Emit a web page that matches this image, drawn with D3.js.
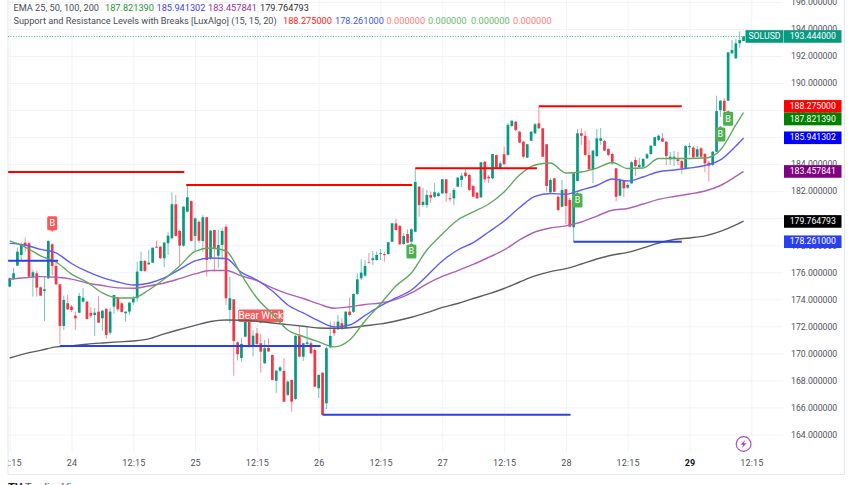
<!DOCTYPE html>
<html><head><meta charset="utf-8">
<script src="https://cdnjs.cloudflare.com/ajax/libs/d3/7.8.5/d3.min.js"></script>
<style>html,body{margin:0;padding:0;background:#fff;overflow:hidden}svg{display:block}text{font-family:Roboto,"Liberation Sans",sans-serif}</style>
</head><body><svg id="c" width="852" height="485"></svg>
<script>
// SOLUSD 45-minute candles, one row per bar: open, high, low, close
const opens=[174.94,175.56,176.49,177.28,178.19,178.15,175.63,175.93,174.89,174.62,175.56,178.07,176.47,175.11,172.03,173.71,173.46,172.79,173.01,173.83,173.83,172.99,172.84,173.09,172.6,173.29,171.53,173.46,174.12,173.71,172.97,173.09,173.78,174.08,176.1,176.84,176.59,176.71,177.89,177.89,177.04,178.15,178.52,181.03,179.06,177.97,180.48,181.27,178.69,179.74,178.32,180.07,177.04,179.13,177.23,178.02,179.37,173.21,174,170.82,169.66,171.24,172.47,170.5,171.49,170.75,169.27,170.4,169.88,167.98,168.72,168.7,166.93,168.04,166.63,171.29,169.76,170.7,170.75,170.25,167.42,168.58,166.31,170.45,171.78,171.78,172.23,171.86,173.09,173.07,174.4,175.56,175.75,176.74,176.91,176.91,177.35,177.35,177.35,178.26,179.62,179.43,178.09,178.83,178.26,179,182.33,180.98,180.98,181.72,181.59,181.64,181.84,182.88,181.47,181.47,182.33,182.83,183.37,183.2,182.38,181.89,181.55,184.18,183.07,182.95,184.67,183.69,184.73,184.68,186.82,187.14,186.4,185.66,184.48,185.73,186.28,187.02,186.65,185.47,181.92,182.95,181.59,180.85,182.14,181.35,179.33,182.75,186.28,186.1,184.68,183.62,184.6,185.73,185.71,185.12,184.75,183.69,181.67,182.75,182.26,182.58,184.31,183.79,183.81,184.43,184.75,185.36,185.79,185.91,185.66,184.36,184.38,184.36,184.23,183.69,185.25,185.22,184.55,185.17,184.75,184.11,183.94,184.92,188,188.69,188.69,192.2,191.83,192.94,193.11];
const highs=[175.63,176.32,177.82,178.19,178.56,178.26,176.17,176.1,174.95,175.68,178.35,178.15,176.91,175.11,174.27,174.32,173.58,173.09,174.47,174.84,173.88,173.43,173.36,174.25,173.21,173.34,173.36,174.32,174.2,173.77,173.09,173.83,174.25,176.78,177.52,176.91,177.65,177.83,178.34,177.95,178.26,179,181.92,181.72,179.13,180.9,182.46,181.31,180.07,179.82,180.24,180.11,179.13,179.13,179.13,179.26,179.55,175.68,174,170.87,171.14,172.72,172.62,171.73,171.88,171.44,170.99,171.12,169.92,168.78,169.07,169.64,168.04,168.04,171.36,171.98,170.79,171.98,170.92,170.38,168.48,168.58,170.5,172.35,172.35,172.84,172.6,173.1,174.15,174.45,175.93,176.96,176.91,177.41,177.58,177.52,177.72,177.52,178.26,179.65,179.94,179.5,178.89,179.18,179.26,183.69,182.38,182.24,182.09,181.96,182.6,181.94,182.9,182.9,181.89,182.24,183.05,183.35,183.64,183.27,182.46,181.94,184.16,184.23,183.2,184.75,184.71,184.23,185.29,187.04,187.26,187.19,186.45,185.71,185.49,186.45,187.04,188.28,186.67,185.49,182.97,182.97,181.72,182.83,182.16,181.5,183.35,186.6,186.65,186.45,185.79,185.05,186.6,186.67,185.79,185.19,184.82,183.71,182.97,182.83,182.61,184.23,184.53,184.46,184.46,184.82,185.42,186.01,186.23,186.3,185.71,184.9,184.97,184.9,184.31,185.42,185.56,185.34,185.34,185.27,184.82,184.23,184.97,189.06,188.74,188.89,192.29,193.18,193.26,193.83,193.48];
const lows=[174.89,175.43,176.49,176.91,177.52,175.68,174.2,174.2,174.25,172.4,175.5,175.8,175.06,170.7,171.73,173.21,173.06,171.73,172.99,173.73,172.51,172.62,171.29,172.25,171.66,171.07,171.36,172.92,173.09,173.03,172.35,172.84,173.58,173.83,176.05,176.02,176.54,176.69,177.78,176.98,176.39,177.28,178.44,178.63,176.54,177.89,180.44,178.28,177.6,178.17,177.52,175.68,176.91,176.05,176.3,176.91,173.58,172.23,168.35,169.48,169.37,171.19,170.42,169.76,170.62,168.58,169.22,170.11,168,167.05,168.63,166.39,166.85,165.69,166.56,169.71,169.44,170.62,169.96,167.5,166.7,165.45,165.87,170.38,171.29,171.73,171.73,171.81,172.73,172.99,174.32,175.43,175.68,176.67,176.54,176.86,176.91,176.78,177.28,178.24,179.08,178.02,178.02,178.15,178.19,178.96,180.09,180.85,180.76,181.13,181.5,181.57,181.79,181.2,181.22,180.98,182.31,182.31,182.98,182.01,181.57,181.42,181.5,182.61,182.61,182.9,183.68,183.64,183.96,184.6,186.75,186.45,185.56,184.45,184.45,185.71,186.23,186.6,184.53,181.96,181.87,181.94,180.53,180.83,179.57,179.35,178.26,182.72,185.42,184.6,183.57,182.61,184.53,185.42,184.97,184.6,183.94,181.24,181.61,181.57,182.16,182.53,183.12,183.71,183.79,184.38,184.68,185.34,185.71,185.64,183.94,183.94,183.86,183.94,183.27,183.64,184.68,184.45,184.53,184.45,183.42,182.7,183.86,184.9,187.51,187.26,188.67,192.15,191.78,192.59,193.11];
const closes=[175.56,175.93,177.52,178.09,177.97,175.68,176,174.86,174.27,174.74,178.32,176.47,175.11,172.03,173.95,173.26,173.21,172.6,174.25,174.12,172.55,172.79,173.01,172.27,173.16,171.36,173.09,174.32,173.26,173.06,173.09,173.75,174.08,176.05,176.84,176.1,176.71,177.82,177.82,177.04,178.19,178.71,181.03,178.69,177.97,180.85,181.55,178.32,179.99,178.34,180.07,176.91,179.08,177.78,178.02,179.06,174.08,174.08,170.92,169.94,170.7,172.47,170.5,171.31,170.7,170.13,170.38,170.14,168.04,168.72,168.97,166.43,167.91,166.43,171.29,169.76,170.75,170.82,170.01,167.54,168.4,165.45,170.38,171.29,171.49,172.35,171.81,173.09,172.84,174.4,175.48,175.97,176.47,176.69,177.04,177.28,177.41,177.28,178.22,179.62,179.13,178.07,178.69,178.19,179.18,182.68,180.98,181.22,181.72,181.52,181.92,181.84,182.88,181.84,181.4,182.09,183,183.15,183.12,182.09,181.59,181.47,184.14,182.88,182.95,184.75,183.71,184.06,183.99,186.9,187.21,186.53,185.59,184.55,185.47,186.4,186.95,186.65,184.55,182.38,182.83,181.96,180.61,182.09,180.9,179.37,183.32,186.28,186.1,184.68,183.62,185,185.91,185.91,185,184.68,184.06,181.59,182.83,182.21,182.46,184.14,183.86,183.94,184.38,184.73,185.36,185.99,186.1,185.66,184.6,184.55,184.55,184.23,183.69,185.34,185.34,184.51,185.1,184.55,184.06,183.88,184.92,187.93,188.69,187.93,192.27,192.44,192.94,193.18,193.44];

// EMA readings, taken every fourth bar plus the last one
const emaBars=[0,4,8,12,16,20,24,28,32,36,40,44,48,52,56,60,64,68,72,76,80,84,88,92,96,100,104,108,112,116,120,124,128,132,136,140,144,148,152,156,160,164,168,172,176,180,184,188,190];
const ema25=[178.32,177.87,177.21,176.76,175.87,175.28,174.47,174.1,174.1,174.69,175.5,176.47,177.55,177.8,177.58,175.8,174.1,172.92,171.73,171.25,170.85,170.48,170.99,172.4,173.66,174.99,175.95,177.65,178.83,179.87,180.46,181.05,181.94,183.2,183.94,184.08,183.35,183.42,183.71,184.12,183.68,183.71,184.42,184.42,184.42,184.45,185.05,186.9,187.82];
const ema50=[178.14,178.02,177.69,177.43,176.65,176.06,175.6,175.28,175.06,175.19,175.58,176.21,176.84,177.06,177.02,175.99,175.43,174.62,173.58,172.99,172.4,171.96,172.1,172.81,173.51,174.1,174.69,175.73,176.84,177.65,178.2,178.98,179.79,180.79,181.61,181.83,181.77,182.09,182.42,182.9,182.75,183.05,183.44,183.57,183.71,183.9,184.31,185.34,185.94];
const ema100=[175.49,175.6,175.68,175.63,175.49,175.21,175.02,174.85,174.82,174.99,175.21,175.53,175.88,176.13,176.13,175.73,175.39,174.84,174.4,174.06,173.66,173.34,173.45,173.62,173.73,173.99,174.47,175.14,175.69,176.13,176.58,177.1,177.65,178.39,178.98,179.28,179.43,179.72,180.16,180.59,180.72,181.05,181.39,181.61,181.79,182.01,182.42,183.09,183.46];
const ema200=[169.66,169.98,170.22,170.48,170.56,170.68,170.77,170.85,170.92,171.07,171.44,171.77,172.07,172.36,172.47,172.45,172.38,172.25,172.13,172.01,171.88,171.86,171.9,172.04,172.18,172.4,172.67,173.01,173.4,173.69,174.06,174.4,174.8,175.28,175.73,176.05,176.27,176.61,176.98,177.28,177.47,177.8,178.17,178.43,178.54,178.69,179.02,179.5,179.78];

// Support and resistance segments: start bar, end bar, price
const resistStart=[-0.4,45.7,105,137]; const resistEnd=[45.2,104.2,136.5,174]; const resistPrice=[183.42,182.45,183.69,188.275];
const supportStart=[-0.4,13,81,146]; const supportEnd=[12.5,80.5,145.2,174]; const supportPrice=[176.85,170.55,165.46,178.261];

// Signal labels
const buyBars=[104,147,184,186]; const buyPrices=[178.17,181.94,186.82,187.98]; const buyText=["B","B","B","B"];
const sellBars=[11,65]; const sellPrices=[179,172.21]; const sellText=["B","Bear Wick"];

// Axis content
const priceTicks=[164,166,168,170,172,174,176,178,180,182,184,186,188,190,192,194,196];
const timeBars=[0,16,32,48,64,80,96,112,128,144,160,176,192];
const timeLabels=["12:15","24","12:15","25","12:15","26","12:15","27","12:15","28","12:15","29","12:15"];

// Price tags on the axis: value, tag centre price, colour
const tagValues=["188.275000","187.821390","185.941302","183.457841","179.764793","178.261000"];
const tagPrices=[188.275,187.34,185.95,183.46,179.76,178.26];
const tagColors=["#ff0000","#008000","#0000ff","#800080","#000000","#2a3ff0"];
const lastPrice=193.444;

// Legend
const legend1=[["EMA 25, 50, 100, 200","#4a4e59"],["187.821390","#2a9132"],["185.941302","#3f3ff5"],["183.457841","#9c2f9c"],["179.764793","#2f2f2f"]];
const legend2=[["Support and Resistance Levels with Breaks [LuxAlgo] (15, 15, 20)","#4a4e59"],["188.275000","#ff2020"],["178.261000","#3f55ef"],["0.000000","#ff7b7b"],["0.000000","#66bb6a"],["0.000000","#66bb6a"],["0.000000","#ff7b7b"]];

const up="#089981",dn="#f23645",grid="#f0f3fa",txt="#50535e";
const svg=d3.select("#c");
const x=d3.scaleLinear().domain([0,192]).range([9.7,751.3]);
const y=d3.scaleLinear().domain([164,192]).range([434.5,56]);
const defs=svg.append("defs");
defs.append("clipPath").attr("id","pane").append("rect").attr("x",8).attr("y",0).attr("width",775).attr("height",452.5);
defs.append("clipPath").attr("id","times").append("rect").attr("x",8).attr("y",452).attr("width",775).attr("height",22);

// grid
const gx=svg.append("g").attr("clip-path","url(#pane)").append("g").attr("transform","translate(0,452.5)")
 .call(d3.axisBottom(x).tickValues(timeBars).tickSize(-452.5).tickFormat(""));
gx.select(".domain").remove(); gx.selectAll("line").attr("stroke",grid);
const gy=svg.append("g").attr("transform","translate(783,0)")
 .call(d3.axisLeft(y).tickValues(priceTicks).tickSize(775).tickFormat(""));
gy.select(".domain").remove(); gy.selectAll("line").attr("stroke",grid);

// frame
const frame=d3.path();frame.moveTo(8,0);frame.lineTo(8,474.5);frame.lineTo(844.5,474.5);frame.lineTo(844.5,0);
svg.append("path").attr("d",frame.toString()).attr("fill","none").attr("stroke","#e6e8ee");

// axes
const ax=svg.append("g").attr("clip-path","url(#times)").append("g").attr("transform","translate(0,452)")
 .call(d3.axisBottom(x).tickValues(timeBars).tickSize(0).tickPadding(8).tickFormat((d,i)=>timeLabels[i]));
ax.select(".domain").remove();
ax.selectAll("text").attr("fill",(d,i)=>timeLabels[i]==="29"?"#131722":txt).attr("font-size",9).attr("font-weight",(d,i)=>timeLabels[i]==="29"?700:400).attr("font-family","Roboto,sans-serif").style("letter-spacing","0.15px");
const ay=svg.append("g").attr("transform","translate(791,0)")
 .call(d3.axisRight(y).tickValues(priceTicks).tickSize(0).tickPadding(0).tickFormat(d=>d.toFixed(6)));
ay.select(".domain").remove();
ay.selectAll("text").attr("fill",txt).attr("font-size",8.7).attr("font-family","Roboto,sans-serif");

const plot=svg.append("g").attr("clip-path","url(#pane)");
const idx=d3.range(opens.length);
const isUp=i=>closes[i]>=opens[i];
plot.append("g").selectAll("line").data(idx).join("line")
 .attr("x1",i=>x(i)).attr("x2",i=>x(i)).attr("y1",i=>y(highs[i])).attr("y2",i=>y(lows[i]))
 .attr("stroke",i=>isUp(i)?up:dn).attr("stroke-width",0.8).attr("stroke-opacity",0.7);
plot.append("g").selectAll("rect").data(idx).join("rect")
 .attr("x",i=>x(i)-1.35).attr("width",2.7)
 .attr("y",i=>Math.min(y(opens[i]),y(closes[i]))).attr("height",i=>Math.max(0.8,Math.abs(y(opens[i])-y(closes[i]))))
 .attr("fill",i=>isUp(i)?up:dn);

// signal labels under the averages
function badge(g,bar,price,text,color,pointUp){
 const w=text.length>1?45:10,h=text.length>1?12.5:14,cx=x(bar),py=y(price);
 const top=pointUp?py+1.5:py-h-1.5;
 const e=g.append("g");
 const tip=d3.path();
 if(pointUp){tip.moveTo(cx-2,top+.5);tip.lineTo(cx,py);tip.lineTo(cx+2,top+.5);}
 else{tip.moveTo(cx-2,top+h-.5);tip.lineTo(cx,py);tip.lineTo(cx+2,top+h-.5);}
 tip.closePath();
 e.append("path").attr("d",tip.toString()).attr("fill",color);
 e.append("rect").attr("x",cx-w/2).attr("y",top).attr("width",w).attr("height",h).attr("rx",1.5).attr("fill",color);
 e.append("text").attr("x",cx).attr("y",top+h/2+.3).attr("text-anchor","middle").attr("dominant-baseline","middle").attr("fill","#fff").attr("font-size",text.length>1?10:9).text(text);
}
const sig=plot.append("g");
sellBars.forEach((b,i)=>badge(sig,b,sellPrices[i],sellText[i],"#f75b5b",false));
buyBars.forEach((b,i)=>badge(sig,b,buyPrices[i],buyText[i],"#4caf50",true));

// averages
const line=d3.line().x((d,i)=>x(emaBars[i])).y(d=>y(d)).curve(d3.curveMonotoneX);
[[ema200,"#5d5d5d"],[ema100,"#ae62b4"],[ema50,"#5e5efb"],[ema25,"#5fa95f"]].forEach(([s,c])=>{
 plot.append("path").attr("d",line(s)).attr("fill","none").attr("stroke",c).attr("stroke-width",1.4);
});

// levels
plot.append("g").selectAll("line").data(resistPrice).join("line")
 .attr("x1",(d,i)=>x(resistStart[i])).attr("x2",(d,i)=>x(resistEnd[i])).attr("y1",d=>y(d)).attr("y2",d=>y(d))
 .attr("stroke","#ff0000").attr("stroke-width",2);
plot.append("g").selectAll("line").data(supportPrice).join("line")
 .attr("x1",(d,i)=>x(supportStart[i])).attr("x2",(d,i)=>x(supportEnd[i])).attr("y1",d=>y(d)).attr("y2",d=>y(d))
 .attr("stroke","#2a3ff0").attr("stroke-width",2);

// last price
svg.append("line").attr("x1",8).attr("x2",745).attr("y1",y(lastPrice)).attr("y2",y(lastPrice))
 .attr("stroke",up).attr("stroke-width",1).attr("stroke-dasharray","1 1.6").attr("stroke-opacity",.75);

// axis tags
function tag(xl,w,price,label,color){
 const g=svg.append("g");
 g.append("rect").attr("x",xl).attr("y",y(price)-6.3).attr("width",w).attr("height",12.6).attr("fill",color);
 g.append("text").attr("x",xl+w/2).attr("y",y(price)+.3).attr("text-anchor","middle").attr("dominant-baseline","middle").attr("fill","#fff").attr("font-size",8.7).text(label);
}
tag(745.5,38,lastPrice,"SOLUSD",up);
tag(784,57.5,lastPrice,lastPrice.toFixed(6),up);
tagValues.forEach((v,i)=>tag(784,57.5,tagPrices[i],v,tagColors[i]));

// legend
function legendRow(row,ty,xs){
 row.forEach(([t,c],i)=>svg.append("text").attr("x",xs[i]).attr("y",ty).attr("dominant-baseline","middle").attr("fill",c).attr("font-size",9.2).text(t));
}
legendRow(legend1,9,[13.5,105,156.5,208,260]);
legendRow(legend2,22,[13.5,283,335,386.5,428,471,513]);

// lightning marker
const bolt=svg.append("g").attr("transform","translate("+x(190)+",444)");
bolt.append("circle").attr("r",7.4).attr("fill","#fff").attr("stroke","#ab47bc").attr("stroke-width",1.1);
bolt.append("path").attr("d","M1.8,-4.2 L-3,0.8 L-0.3,0.8 L-1.8,4.2 L3,-0.8 L0.3,-0.8 Z").attr("fill","#ab47bc");

// brand line, cut by the page edge
svg.append("text").attr("x",8).attr("y",491).attr("font-size",11).attr("font-weight",700).attr("fill","#131722").text("TV");
svg.append("text").attr("x",25).attr("y",491).attr("font-size",11).attr("fill","#50535e").text("TradingView");
</script></body></html>
